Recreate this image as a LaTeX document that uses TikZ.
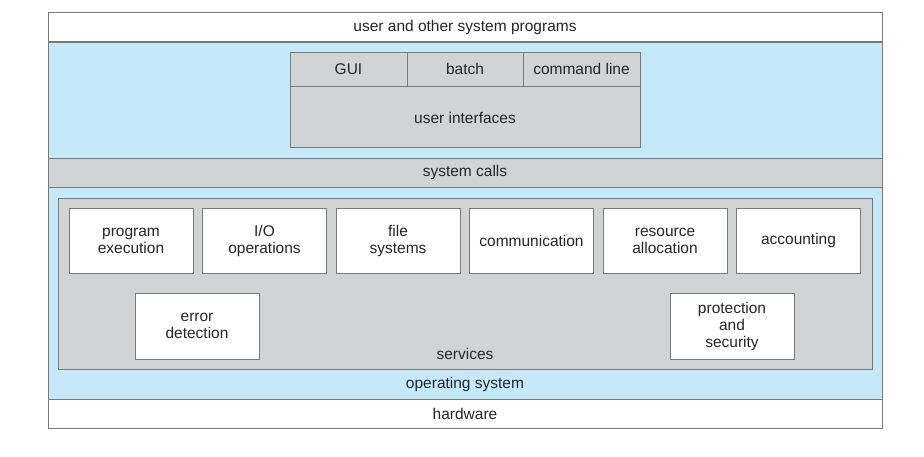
\documentclass[tikz,border=0pt]{standalone}
\usepackage{fontspec}
\setmainfont{Liberation Sans}
\definecolor{osblue}{HTML}{C6E9F9}
\definecolor{svcgray}{HTML}{D2D3D5}
\definecolor{edge}{HTML}{7A7A7A}
\begin{document}
\begin{tikzpicture}[x=1pt,y=-1pt,
        every node/.style={font=\fontsize{15.5}{17}\selectfont, text=black!85, inner sep=0pt},
        band/.style={draw=edge, line width=0.9pt, minimum width=834pt, minimum height=29pt},
        cell/.style={draw=edge, line width=0.9pt, fill=svcgray, minimum height=34pt},
        svc/.style={draw=edge, line width=0.9pt, fill=white, minimum width=124pt, minimum height=65pt, align=center}]
    \useasboundingbox (0,0) rectangle (924,456);
    % operating system layer
    \node[draw=edge, line width=0.9pt, fill=osblue, minimum width=834pt, minimum height=357pt] (os) at (465,220.5) {};
    \node (ostext) at (465,384) {operating system};
    \node[band, fill=white] (prog) at (465,27) {user and other system programs};
    \node[band, fill=svcgray] (calls) at (465,172.5) {system calls};
    \node[band, fill=white] (hw) at (465,413.5) {hardware};
    % user interfaces
    \node[draw=edge, line width=0.9pt, fill=svcgray, minimum width=350pt, minimum height=95pt] (ui) at (465,99.5) {};
    \node (uitext) at (465,118) {user interfaces};
    \node[cell, minimum width=117pt] (gui) at (348.5,69) {GUI};
    \node[cell, minimum width=116pt] (batch) at (465,69) {batch};
    \node[cell, minimum width=117pt] (cmd) at (581.5,69) {command line};
    % services
    \node[draw=edge, line width=0.9pt, fill=svcgray, minimum width=814pt, minimum height=171pt] (services) at (465,283.5) {};
    \node (svctext) at (465,354) {services};
    \node[svc] (exec) at (131,240.5) {program\\execution};
    \node[svc] (io) at (264.5,240.5) {I/O\\operations};
    \node[svc] (fs) at (398,240.5) {file\\systems};
    \node[svc] (comm) at (531.5,240.5) {communication};
    \node[svc] (alloc) at (665,240.5) {resource\\allocation};
    \node[svc] (acct) at (798.5,240.5) {accounting};
    \node[svc, minimum height=66pt] (err) at (197,326) {error\\detection};
    \node[svc, minimum height=66pt] (prot) at (732,326) {protection\\and\\security};
\end{tikzpicture}
\end{document}
